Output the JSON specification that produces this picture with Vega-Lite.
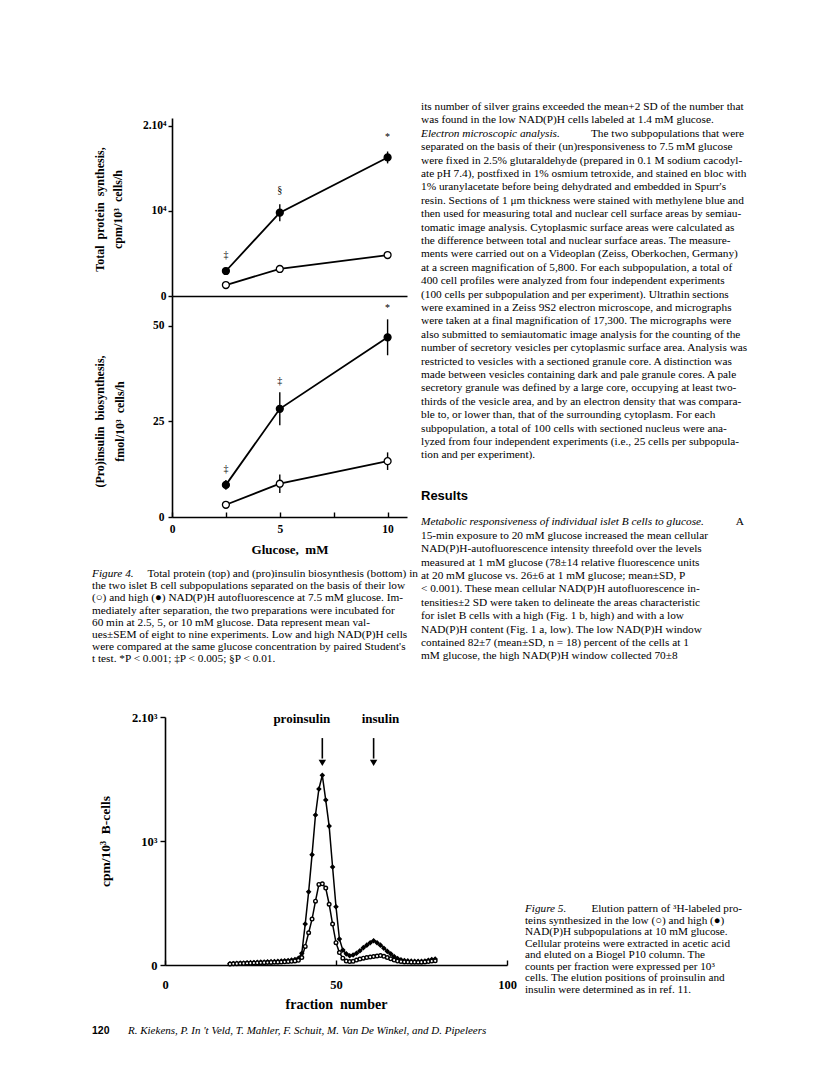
{
  "$schema": "https://vega.github.io/schema/vega-lite/v6.json",
  "padding": {"left": 92, "top": 90, "right": 10, "bottom": 5},
  "background": "white",
  "config": {
    "view": {"stroke": null},
    "axis": {"grid": false, "domainColor": "#000", "domainWidth": 1.6, "tickColor": "#000", "tickWidth": 1.4, "labelColor": "#000", "labelFont": "Liberation Serif", "labelFontWeight": "bold", "titleColor": "#000", "titleFont": "Liberation Serif", "titleFontWeight": "bold", "labelFlush": false, "labelOverlap": false}
  },
  "columns": 3,
  "spacing": 0,
  "align": "each",
  "bounds": "flush",
  "datasets": {
    "fig4": [
      {"panel": "top", "glucose": 2.5, "group": "high", "mean": 2940, "lo": 2740, "hi": 3140, "sig": "‡"},
      {"panel": "top", "glucose": 5, "group": "high", "mean": 9800, "lo": 8800, "hi": 10800, "sig": "§"},
      {"panel": "top", "glucose": 10, "group": "high", "mean": 16300, "lo": 15600, "hi": 17000, "sig": "*"},
      {"panel": "top", "glucose": 2.5, "group": "low", "mean": 1290, "lo": 1150, "hi": 1430, "sig": ""},
      {"panel": "top", "glucose": 5, "group": "low", "mean": 3180, "lo": 2780, "hi": 3580, "sig": ""},
      {"panel": "top", "glucose": 10, "group": "low", "mean": 4820, "lo": 4420, "hi": 5220, "sig": ""},
      {"panel": "bottom", "glucose": 2.5, "group": "high", "mean": 8.4, "lo": 7.1, "hi": 9.7, "sig": "‡"},
      {"panel": "bottom", "glucose": 5, "group": "high", "mean": 28.3, "lo": 24.0, "hi": 32.6, "sig": "‡"},
      {"panel": "bottom", "glucose": 10, "group": "high", "mean": 47.0, "lo": 42.3, "hi": 51.7, "sig": "*"},
      {"panel": "bottom", "glucose": 2.5, "group": "low", "mean": 3.2, "lo": 2.8, "hi": 3.6, "sig": ""},
      {"panel": "bottom", "glucose": 5, "group": "low", "mean": 8.7, "lo": 6.3, "hi": 11.1, "sig": ""},
      {"panel": "bottom", "glucose": 10, "group": "low", "mean": 14.6, "lo": 12.3, "hi": 16.9, "sig": ""}
    ],
    "fig5": [
      {"f": 19, "g": "high", "v": 10}, {"f": 20, "g": "high", "v": 12}, {"f": 21, "g": "high", "v": 14}, {"f": 22, "g": "high", "v": 15}, {"f": 23, "g": "high", "v": 16}, {"f": 24, "g": "high", "v": 18}, {"f": 25, "g": "high", "v": 19}, {"f": 26, "g": "high", "v": 20}, {"f": 27, "g": "high", "v": 22}, {"f": 28, "g": "high", "v": 23}, {"f": 29, "g": "high", "v": 24}, {"f": 30, "g": "high", "v": 26}, {"f": 31, "g": "high", "v": 27}, {"f": 32, "g": "high", "v": 28}, {"f": 33, "g": "high", "v": 30}, {"f": 34, "g": "high", "v": 32}, {"f": 35, "g": "high", "v": 34}, {"f": 36, "g": "high", "v": 36}, {"f": 37, "g": "high", "v": 40}, {"f": 38, "g": "high", "v": 45}, {"f": 39, "g": "high", "v": 55}, {"f": 40, "g": "high", "v": 95}, {"f": 41, "g": "high", "v": 330}, {"f": 42, "g": "high", "v": 590}, {"f": 43, "g": "high", "v": 890}, {"f": 44, "g": "high", "v": 1210}, {"f": 45, "g": "high", "v": 1420}, {"f": 46, "g": "high", "v": 1530}, {"f": 47, "g": "high", "v": 1330}, {"f": 48, "g": "high", "v": 1120}, {"f": 49, "g": "high", "v": 790}, {"f": 50, "g": "high", "v": 470}, {"f": 51, "g": "high", "v": 210}, {"f": 52, "g": "high", "v": 120}, {"f": 53, "g": "high", "v": 90}, {"f": 54, "g": "high", "v": 75}, {"f": 55, "g": "high", "v": 80}, {"f": 56, "g": "high", "v": 95}, {"f": 57, "g": "high", "v": 115}, {"f": 58, "g": "high", "v": 140}, {"f": 59, "g": "high", "v": 160}, {"f": 60, "g": "high", "v": 180}, {"f": 61, "g": "high", "v": 195}, {"f": 62, "g": "high", "v": 180}, {"f": 63, "g": "high", "v": 160}, {"f": 64, "g": "high", "v": 135}, {"f": 65, "g": "high", "v": 110}, {"f": 66, "g": "high", "v": 90}, {"f": 67, "g": "high", "v": 68}, {"f": 68, "g": "high", "v": 52}, {"f": 69, "g": "high", "v": 42}, {"f": 70, "g": "high", "v": 36}, {"f": 71, "g": "high", "v": 33}, {"f": 72, "g": "high", "v": 31}, {"f": 73, "g": "high", "v": 30}, {"f": 74, "g": "high", "v": 30}, {"f": 75, "g": "high", "v": 30}, {"f": 76, "g": "high", "v": 32}, {"f": 77, "g": "high", "v": 38}, {"f": 78, "g": "high", "v": 45}, {"f": 79, "g": "high", "v": 48},
      {"f": 19, "g": "low", "v": 8}, {"f": 20, "g": "low", "v": 10}, {"f": 21, "g": "low", "v": 11}, {"f": 22, "g": "low", "v": 12}, {"f": 23, "g": "low", "v": 13}, {"f": 24, "g": "low", "v": 14}, {"f": 25, "g": "low", "v": 15}, {"f": 26, "g": "low", "v": 16}, {"f": 27, "g": "low", "v": 17}, {"f": 28, "g": "low", "v": 18}, {"f": 29, "g": "low", "v": 19}, {"f": 30, "g": "low", "v": 20}, {"f": 31, "g": "low", "v": 21}, {"f": 32, "g": "low", "v": 22}, {"f": 33, "g": "low", "v": 23}, {"f": 34, "g": "low", "v": 24}, {"f": 35, "g": "low", "v": 26}, {"f": 36, "g": "low", "v": 28}, {"f": 37, "g": "low", "v": 30}, {"f": 38, "g": "low", "v": 33}, {"f": 39, "g": "low", "v": 38}, {"f": 40, "g": "low", "v": 60}, {"f": 41, "g": "low", "v": 150}, {"f": 42, "g": "low", "v": 260}, {"f": 43, "g": "low", "v": 370}, {"f": 44, "g": "low", "v": 515}, {"f": 45, "g": "low", "v": 650}, {"f": 46, "g": "low", "v": 655}, {"f": 47, "g": "low", "v": 620}, {"f": 48, "g": "low", "v": 490}, {"f": 49, "g": "low", "v": 330}, {"f": 50, "g": "low", "v": 180}, {"f": 51, "g": "low", "v": 100}, {"f": 52, "g": "low", "v": 55}, {"f": 53, "g": "low", "v": 32}, {"f": 54, "g": "low", "v": 28}, {"f": 55, "g": "low", "v": 30}, {"f": 56, "g": "low", "v": 40}, {"f": 57, "g": "low", "v": 48}, {"f": 58, "g": "low", "v": 55}, {"f": 59, "g": "low", "v": 60}, {"f": 60, "g": "low", "v": 64}, {"f": 61, "g": "low", "v": 68}, {"f": 62, "g": "low", "v": 72}, {"f": 63, "g": "low", "v": 76}, {"f": 64, "g": "low", "v": 70}, {"f": 65, "g": "low", "v": 60}, {"f": 66, "g": "low", "v": 50}, {"f": 67, "g": "low", "v": 40}, {"f": 68, "g": "low", "v": 32}, {"f": 69, "g": "low", "v": 28}, {"f": 70, "g": "low", "v": 25}, {"f": 71, "g": "low", "v": 24}, {"f": 72, "g": "low", "v": 23}, {"f": 73, "g": "low", "v": 23}, {"f": 74, "g": "low", "v": 22}, {"f": 75, "g": "low", "v": 23}, {"f": 76, "g": "low", "v": 25}, {"f": 77, "g": "low", "v": 28}, {"f": 78, "g": "low", "v": 32}, {"f": 79, "g": "low", "v": 34}
    ],
    "arrows": [
      {"label": "proinsulin", "f": 46, "lf": 40},
      {"label": "insulin", "f": 61, "lf": 63}
    ],
    "rightText": [
      {"line": 1, "style": "plain", "text": "its number of silver grains exceeded the mean+2 SD of the number that"},
      {"line": 2, "style": "plain", "text": "was found in the low NAD(P)H cells labeled at 1.4 mM glucose."},
      {"line": 3, "style": "italic", "text": "\u00a0\u00a0\u00a0\u00a0\u00a0Electron microscopic analysis."},
      {"line": 3, "style": "rest", "text": "The two subpopulations that were"},
      {"line": 4, "style": "plain", "text": "separated on the basis of their (un)responsiveness to 7.5 mM glucose"},
      {"line": 5, "style": "plain", "text": "were fixed in 2.5% glutaraldehyde (prepared in 0.1 M sodium cacodyl-"},
      {"line": 6, "style": "plain", "text": "ate pH 7.4), postfixed in 1% osmium tetroxide, and stained en bloc with"},
      {"line": 7, "style": "plain", "text": "1% uranylacetate before being dehydrated and embedded in Spurr's"},
      {"line": 8, "style": "plain", "text": "resin. Sections of 1 μm thickness were stained with methylene blue and"},
      {"line": 9, "style": "plain", "text": "then used for measuring total and nuclear cell surface areas by semiau-"},
      {"line": 10, "style": "plain", "text": "tomatic image analysis. Cytoplasmic surface areas were calculated as"},
      {"line": 11, "style": "plain", "text": "the difference between total and nuclear surface areas. The measure-"},
      {"line": 12, "style": "plain", "text": "ments were carried out on a Videoplan (Zeiss, Oberkochen, Germany)"},
      {"line": 13, "style": "plain", "text": "at a screen magnification of 5,800. For each subpopulation, a total of"},
      {"line": 14, "style": "plain", "text": "400 cell profiles were analyzed from four independent experiments"},
      {"line": 15, "style": "plain", "text": "(100 cells per subpopulation and per experiment). Ultrathin sections"},
      {"line": 16, "style": "plain", "text": "were examined in a Zeiss 9S2 electron microscope, and micrographs"},
      {"line": 17, "style": "plain", "text": "were taken at a final magnification of 17,300. The micrographs were"},
      {"line": 18, "style": "plain", "text": "also submitted to semiautomatic image analysis for the counting of the"},
      {"line": 19, "style": "plain", "text": "number of secretory vesicles per cytoplasmic surface area. Analysis was"},
      {"line": 20, "style": "plain", "text": "restricted to vesicles with a sectioned granule core. A distinction was"},
      {"line": 21, "style": "plain", "text": "made between vesicles containing dark and pale granule cores. A pale"},
      {"line": 22, "style": "plain", "text": "secretory granule was defined by a large core, occupying at least two-"},
      {"line": 23, "style": "plain", "text": "thirds of the vesicle area, and by an electron density that was compara-"},
      {"line": 24, "style": "plain", "text": "ble to, or lower than, that of the surrounding cytoplasm. For each"},
      {"line": 25, "style": "plain", "text": "subpopulation, a total of 100 cells with sectioned nucleus were ana-"},
      {"line": 26, "style": "plain", "text": "lyzed from four independent experiments (i.e., 25 cells per subpopula-"},
      {"line": 27, "style": "plain", "text": "tion and per experiment)."},
      {"line": 30, "style": "heading", "text": "Results"},
      {"line": 32, "style": "italic", "text": "Metabolic responsiveness of individual islet B cells to glucose."},
      {"line": 32, "style": "rest", "text": "A"},
      {"line": 33, "style": "plain", "text": "15-min exposure to 20 mM glucose increased the mean cellular"},
      {"line": 34, "style": "plain", "text": "NAD(P)H-autofluorescence intensity threefold over the levels"},
      {"line": 35, "style": "plain", "text": "measured at 1 mM glucose (78±14 relative fluorescence units"},
      {"line": 36, "style": "plain", "text": "at 20 mM glucose vs. 26±6 at 1 mM glucose; mean±SD, P"},
      {"line": 37, "style": "plain", "text": "< 0.001). These mean cellular NAD(P)H autofluorescence in-"},
      {"line": 38, "style": "plain", "text": "tensities±2 SD were taken to delineate the areas characteristic"},
      {"line": 39, "style": "plain", "text": "for islet B cells with a high (Fig. 1 b, high) and with a low"},
      {"line": 40, "style": "plain", "text": "NAD(P)H content (Fig. 1 a, low). The low NAD(P)H window"},
      {"line": 41, "style": "plain", "text": "contained 82±7 (mean±SD, n = 18) percent of the cells at 1"},
      {"line": 42, "style": "plain", "text": "mM glucose, the high NAD(P)H window collected 70±8"}
    ],
    "cap4": [
      {"line": 1, "style": "italic", "text": "Figure 4."},
      {"line": 1, "style": "rest", "text": "Total protein (top) and (pro)insulin biosynthesis (bottom) in"},
      {"line": 2, "style": "plain", "text": "the two islet B cell subpopulations separated on the basis of their low"},
      {"line": 3, "style": "plain", "text": "(○) and high (●) NAD(P)H autofluorescence at 7.5 mM glucose. Im-"},
      {"line": 4, "style": "plain", "text": "mediately after separation, the two preparations were incubated for"},
      {"line": 5, "style": "plain", "text": "60 min at 2.5, 5, or 10 mM glucose. Data represent mean val-"},
      {"line": 6, "style": "plain", "text": "ues±SEM of eight to nine experiments. Low and high NAD(P)H cells"},
      {"line": 7, "style": "plain", "text": "were compared at the same glucose concentration by paired Student's"},
      {"line": 8, "style": "plain", "text": "t test. *P < 0.001; ‡P < 0.005; §P < 0.01."}
    ],
    "cap5": [
      {"line": 1, "style": "italic", "text": "Figure 5."},
      {"line": 1, "style": "rest", "text": "Elution pattern of ³H-labeled pro-"},
      {"line": 2, "style": "plain", "text": "teins synthesized in the low (○) and high (●)"},
      {"line": 3, "style": "plain", "text": "NAD(P)H subpopulations at 10 mM glucose."},
      {"line": 4, "style": "plain", "text": "Cellular proteins were extracted in acetic acid"},
      {"line": 5, "style": "plain", "text": "and eluted on a Biogel P10 column. The"},
      {"line": 6, "style": "plain", "text": "counts per fraction were expressed per 10³"},
      {"line": 7, "style": "plain", "text": "cells. The elution positions of proinsulin and"},
      {"line": 8, "style": "plain", "text": "insulin were determined as in ref. 11."}
    ],
    "footer": [
      {"part": "num", "text": "120"},
      {"part": "authors", "text": "R. Kiekens, P. In 't Veld, T. Mahler, F. Schuit, M. Van De Winkel, and D. Pipeleers"}
    ]
  },
  "concat": [
    {"width": 80, "height": 22, "data": {"values": [{}]}, "mark": {"type": "text", "text": ""}},
    {"width": 249, "height": 1, "data": {"values": [{}]}, "mark": {"type": "text", "text": ""}},
    {
      "width": 323, "height": 22,
      "data": {"name": "rightText"},
      "encoding": {"y": {"field": "line", "type": "quantitative", "scale": {"domain": [1, 42], "range": [11, 560.4]}, "axis": null}},
      "layer": [
        {"transform": [{"filter": "datum.style == 'plain'"}], "mark": {"type": "text", "align": "left", "baseline": "middle", "font": "Liberation Serif", "fontSize": 11.3, "fill": "#000"},
         "encoding": {"x": {"datum": 0, "type": "quantitative", "scale": {"domain": [0, 1], "range": [0, 323]}, "axis": null}, "text": {"field": "text"}}},
        {"transform": [{"filter": "datum.style == 'italic'"}], "mark": {"type": "text", "align": "left", "baseline": "middle", "font": "Liberation Serif", "fontStyle": "italic", "fontSize": 11.3, "fill": "#000"},
         "encoding": {"x": {"datum": 0, "type": "quantitative", "scale": {"domain": [0, 1], "range": [0, 323]}, "axis": null}, "text": {"field": "text"}}},
        {"transform": [{"filter": "datum.style == 'rest'"}], "mark": {"type": "text", "align": "right", "baseline": "middle", "font": "Liberation Serif", "fontSize": 11.3, "fill": "#000"},
         "encoding": {"x": {"datum": 1, "type": "quantitative", "scale": {"domain": [0, 1], "range": [0, 323]}, "axis": null}, "text": {"field": "text"}}},
        {"transform": [{"filter": "datum.style == 'heading'"}], "mark": {"type": "text", "align": "left", "baseline": "middle", "font": "Liberation Sans", "fontWeight": "bold", "fontSize": 13, "fill": "#000"},
         "encoding": {"x": {"datum": 0, "type": "quantitative", "scale": {"domain": [0, 1], "range": [0, 323]}, "axis": null}, "text": {"field": "text"}}}
      ]
    },
    {"width": 1, "height": 1, "data": {"values": [{}]}, "mark": {"type": "text", "text": ""}},
    {
      "width": 235, "height": 178,
      "data": {"name": "fig4"},
      "transform": [{"filter": "datum.panel == 'top'"}],
      "encoding": {
        "x": {"field": "glucose", "type": "quantitative", "scale": {"domain": [0, 10.9], "nice": false, "zero": false}, "axis": {"labels": false, "ticks": false, "title": null}},
        "y": {"field": "mean", "type": "quantitative", "scale": {"domain": [0, 20940], "nice": false}, "axis": {"values": [0, 10000, 20000], "labelExpr": "datum.value == 0 ? '0' : datum.value == 10000 ? '10⁴' : '2.10⁴'", "tickSize": 4, "labelPadding": 2, "labelFontSize": 11.5, "title": ["Total\u00a0 protein\u00a0 synthesis,", "cpm/10³\u00a0 cells/h"], "titleX": -73, "titleY": 91, "titleBaseline": "middle", "titleAngle": -90, "titleAlign": "center", "titleFontSize": 12, "titleLineHeight": 18}}
      },
      "layer": [
        {"mark": {"type": "line", "color": "#000", "strokeWidth": 1.8}, "encoding": {"detail": {"field": "group"}}},
        {"mark": {"type": "rule", "color": "#000", "strokeWidth": 1.4},
         "encoding": {"y": {"field": "lo", "type": "quantitative", "scale": {"domain": [0, 20940], "nice": false}, "axis": {"values": [0, 10000, 20000], "labelExpr": "datum.value == 0 ? '0' : datum.value == 10000 ? '10⁴' : '2.10⁴'", "tickSize": 4, "labelPadding": 2, "labelFontSize": 11.5, "title": ["Total\u00a0 protein\u00a0 synthesis,", "cpm/10³\u00a0 cells/h"], "titleX": -73, "titleY": 91, "titleBaseline": "middle", "titleAngle": -90, "titleAlign": "center", "titleFontSize": 12, "titleLineHeight": 18}}, "y2": {"field": "hi"}}},
        {"mark": {"type": "point", "shape": "circle", "filled": true, "size": 48, "stroke": "#000", "strokeWidth": 1.3, "opacity": 1},
         "encoding": {"fill": {"field": "group", "type": "nominal", "scale": {"domain": ["high", "low"], "range": ["#000", "#fff"]}, "legend": null}}},
        {"transform": [{"filter": "datum.group == 'high'"}],
         "mark": {"type": "text", "font": "Liberation Serif", "fontSize": 10, "dy": -14, "fill": "#000", "baseline": "middle"},
         "encoding": {"y": {"field": "hi", "type": "quantitative", "scale": {"domain": [0, 20940], "nice": false}, "axis": {"values": [0, 10000, 20000], "labelExpr": "datum.value == 0 ? '0' : datum.value == 10000 ? '10⁴' : '2.10⁴'", "tickSize": 4, "labelPadding": 2, "labelFontSize": 11.5, "title": ["Total\u00a0 protein\u00a0 synthesis,", "cpm/10³\u00a0 cells/h"], "titleX": -73, "titleY": 91, "titleBaseline": "middle", "titleAngle": -90, "titleAlign": "center", "titleFontSize": 12, "titleLineHeight": 18}}, "text": {"field": "sig"}}}
      ]
    },
    {"width": 1, "height": 1, "data": {"values": [{}]}, "mark": {"type": "text", "text": ""}},
    {"width": 1, "height": 1, "data": {"values": [{}]}, "mark": {"type": "text", "text": ""}},
    {
      "width": 235, "height": 221,
      "data": {"name": "fig4"},
      "transform": [{"filter": "datum.panel == 'bottom'"}],
      "encoding": {
        "x": {"field": "glucose", "type": "quantitative", "scale": {"domain": [0, 10.9], "nice": false, "zero": false}, "axis": {"values": [0, 2.5, 5, 7.5, 10], "labelExpr": "datum.value % 5 == 0 ? datum.label : ''", "tickSize": -5, "labelPadding": 17, "labelBaseline": "middle", "labelFontSize": 11.5, "title": "Glucose,\u00a0 mM", "titleY": 32, "titleBaseline": "middle", "titleFontSize": 13}},
        "y": {"field": "mean", "type": "quantitative", "scale": {"domain": [0, 57.8], "nice": false}, "axis": {"values": [0, 25, 50], "tickSize": 4, "labelPadding": 4, "labelFontSize": 11.5, "title": ["(Pro)insulin\u00a0 biosynthesis,", "fmol/10³\u00a0 cells/h"], "titleX": -73, "titleY": 125, "titleBaseline": "middle", "titleAngle": -90, "titleAlign": "center", "titleFontSize": 12, "titleLineHeight": 20}}
      },
      "layer": [
        {"mark": {"type": "line", "color": "#000", "strokeWidth": 1.8}, "encoding": {"detail": {"field": "group"}}},
        {"mark": {"type": "rule", "color": "#000", "strokeWidth": 1.4},
         "encoding": {"y": {"field": "lo", "type": "quantitative", "scale": {"domain": [0, 57.8], "nice": false}, "axis": {"values": [0, 25, 50], "tickSize": 4, "labelPadding": 4, "labelFontSize": 11.5, "title": ["(Pro)insulin\u00a0 biosynthesis,", "fmol/10³\u00a0 cells/h"], "titleX": -73, "titleY": 125, "titleBaseline": "middle", "titleAngle": -90, "titleAlign": "center", "titleFontSize": 12, "titleLineHeight": 20}}, "y2": {"field": "hi"}}},
        {"mark": {"type": "point", "shape": "circle", "filled": true, "size": 48, "stroke": "#000", "strokeWidth": 1.3, "opacity": 1},
         "encoding": {"fill": {"field": "group", "type": "nominal", "scale": {"domain": ["high", "low"], "range": ["#000", "#fff"]}, "legend": null}}},
        {"transform": [{"filter": "datum.group == 'high'"}],
         "mark": {"type": "text", "font": "Liberation Serif", "fontSize": 10, "dy": -11, "fill": "#000", "baseline": "middle"},
         "encoding": {"y": {"field": "hi", "type": "quantitative", "scale": {"domain": [0, 57.8], "nice": false}, "axis": {"values": [0, 25, 50], "tickSize": 4, "labelPadding": 4, "labelFontSize": 11.5, "title": ["(Pro)insulin\u00a0 biosynthesis,", "fmol/10³\u00a0 cells/h"], "titleX": -73, "titleY": 125, "titleBaseline": "middle", "titleAngle": -90, "titleAlign": "center", "titleFontSize": 12, "titleLineHeight": 20}}, "text": {"field": "sig"}}}
      ]
    },
    {"width": 1, "height": 1, "data": {"values": [{}]}, "mark": {"type": "text", "text": ""}},
    {
      "width": 80, "height": 200,
      "data": {"name": "cap4"},
      "encoding": {"y": {"field": "line", "type": "quantitative", "scale": {"domain": [1, 8], "range": [57, 142.4]}, "axis": null}},
      "layer": [
        {"transform": [{"filter": "datum.style == 'plain'"}], "mark": {"type": "text", "align": "left", "baseline": "middle", "font": "Liberation Serif", "fontSize": 11.3, "fill": "#000"},
         "encoding": {"x": {"datum": 0, "type": "quantitative", "scale": {"domain": [0, 1], "range": [0, 326]}, "axis": null}, "text": {"field": "text"}}},
        {"transform": [{"filter": "datum.style == 'italic'"}], "mark": {"type": "text", "align": "left", "baseline": "middle", "font": "Liberation Serif", "fontStyle": "italic", "fontSize": 11.3, "fill": "#000"},
         "encoding": {"x": {"datum": 0, "type": "quantitative", "scale": {"domain": [0, 1], "range": [0, 326]}, "axis": null}, "text": {"field": "text"}}},
        {"transform": [{"filter": "datum.style == 'rest'"}], "mark": {"type": "text", "align": "right", "baseline": "middle", "font": "Liberation Serif", "fontSize": 11.3, "fill": "#000"},
         "encoding": {"x": {"datum": 1, "type": "quantitative", "scale": {"domain": [0, 1], "range": [0, 326]}, "axis": null}, "text": {"field": "text"}}}
      ]
    },
    {"width": 1, "height": 1, "data": {"values": [{}]}, "mark": {"type": "text", "text": ""}},
    {"width": 1, "height": 1, "data": {"values": [{}]}, "mark": {"type": "text", "text": ""}},
    {"width": 1, "height": 1, "data": {"values": [{}]}, "mark": {"type": "text", "text": ""}},
    {
      "width": 235, "height": 248,
      "layer": [
        {"data": {"name": "fig5"}, "mark": {"type": "line", "color": "#000", "strokeWidth": 1.5},
         "encoding": {
           "x": {"field": "f", "type": "quantitative", "scale": {"domain": [0, 100], "range": [-7, 335], "nice": false, "zero": false}, "axis": {"values": [0, 50, 100], "tickSize": -5, "labelPadding": 24, "labelBaseline": "middle", "labelFontSize": 12.5, "title": "fraction\u00a0 number", "titleX": 164, "titleY": 39, "titleBaseline": "middle", "titleFontSize": 14}},
           "y": {"field": "v", "type": "quantitative", "scale": {"domain": [0, 2000], "nice": false}, "axis": {"values": [0, 1000, 2000], "labelExpr": "datum.value == 0 ? '0' : datum.value == 1000 ? '10³' : '2.10³'", "offset": 7, "tickSize": 5, "labelPadding": 3, "labelFontSize": 12.5, "title": "cpm/10³\u00a0 B-cells", "titleX": -60, "titleY": 124, "titleBaseline": "middle", "titleAngle": -90, "titleAlign": "center", "titleFontSize": 13.5}},
           "detail": {"field": "g"}}},
        {"data": {"name": "fig5"}, "mark": {"type": "point", "filled": true, "size": 13, "stroke": "#000", "strokeWidth": 1.4, "opacity": 1},
         "encoding": {
           "x": {"field": "f", "type": "quantitative", "scale": {"domain": [0, 100], "range": [-7, 335], "nice": false, "zero": false}, "axis": {"values": [0, 50, 100], "tickSize": -5, "labelPadding": 24, "labelBaseline": "middle", "labelFontSize": 12.5, "title": "fraction\u00a0 number", "titleX": 164, "titleY": 39, "titleBaseline": "middle", "titleFontSize": 14}},
           "y": {"field": "v", "type": "quantitative", "scale": {"domain": [0, 2000], "nice": false}, "axis": {"values": [0, 1000, 2000], "labelExpr": "datum.value == 0 ? '0' : datum.value == 1000 ? '10³' : '2.10³'", "offset": 7, "tickSize": 5, "labelPadding": 3, "labelFontSize": 12.5, "title": "cpm/10³\u00a0 B-cells", "titleX": -60, "titleY": 124, "titleBaseline": "middle", "titleAngle": -90, "titleAlign": "center", "titleFontSize": 13.5}},
           "shape": {"field": "g", "type": "nominal", "scale": {"domain": ["high", "low"], "range": ["diamond", "circle"]}, "legend": null},
           "fill": {"field": "g", "type": "nominal", "scale": {"domain": ["high", "low"], "range": ["#000", "#fff"]}, "legend": null}}},
        {"data": {"name": "arrows"}, "mark": {"type": "rule", "color": "#000", "strokeWidth": 1.6},
         "encoding": {
           "x": {"field": "f", "type": "quantitative", "scale": {"domain": [0, 100], "range": [-7, 335], "nice": false, "zero": false}, "axis": {"values": [0, 50, 100], "tickSize": -5, "labelPadding": 24, "labelBaseline": "middle", "labelFontSize": 12.5, "title": "fraction\u00a0 number", "titleX": 164, "titleY": 39, "titleBaseline": "middle", "titleFontSize": 14}},
           "y": {"datum": 1830, "type": "quantitative"}, "y2": {"datum": 1665}}},
        {"data": {"name": "arrows"}, "mark": {"type": "point", "shape": "triangle-down", "filled": true, "size": 55, "color": "#000", "opacity": 1},
         "encoding": {
           "x": {"field": "f", "type": "quantitative", "scale": {"domain": [0, 100], "range": [-7, 335], "nice": false, "zero": false}, "axis": {"values": [0, 50, 100], "tickSize": -5, "labelPadding": 24, "labelBaseline": "middle", "labelFontSize": 12.5, "title": "fraction\u00a0 number", "titleX": 164, "titleY": 39, "titleBaseline": "middle", "titleFontSize": 14}},
           "y": {"datum": 1630, "type": "quantitative"}}},
        {"data": {"name": "arrows"}, "mark": {"type": "text", "font": "Liberation Serif", "fontWeight": "bold", "fontSize": 13, "baseline": "middle", "fill": "#000"},
         "encoding": {
           "x": {"field": "lf", "type": "quantitative", "scale": {"domain": [0, 100], "range": [-7, 335], "nice": false, "zero": false}, "axis": {"values": [0, 50, 100], "tickSize": -5, "labelPadding": 24, "labelBaseline": "middle", "labelFontSize": 12.5, "title": "fraction\u00a0 number", "titleX": 164, "titleY": 39, "titleBaseline": "middle", "titleFontSize": 14}},
           "y": {"datum": 1985, "type": "quantitative"},
           "text": {"field": "label"}}}
      ]
    },
    {
      "width": 1, "height": 1,
      "data": {"name": "cap5"},
      "encoding": {"y": {"field": "line", "type": "quantitative", "scale": {"domain": [1, 8], "range": [192, 272.5]}, "axis": null}},
      "layer": [
        {"transform": [{"filter": "datum.style == 'plain'"}], "mark": {"type": "text", "align": "left", "baseline": "middle", "font": "Liberation Serif", "fontSize": 11.2, "fill": "#000"},
         "encoding": {"x": {"datum": 0, "type": "quantitative", "scale": {"domain": [0, 1], "range": [104, 321]}, "axis": null}, "text": {"field": "text"}}},
        {"transform": [{"filter": "datum.style == 'italic'"}], "mark": {"type": "text", "align": "left", "baseline": "middle", "font": "Liberation Serif", "fontStyle": "italic", "fontSize": 11.2, "fill": "#000"},
         "encoding": {"x": {"datum": 0, "type": "quantitative", "scale": {"domain": [0, 1], "range": [104, 321]}, "axis": null}, "text": {"field": "text"}}},
        {"transform": [{"filter": "datum.style == 'rest'"}], "mark": {"type": "text", "align": "right", "baseline": "middle", "font": "Liberation Serif", "fontSize": 11.2, "fill": "#000"},
         "encoding": {"x": {"datum": 1, "type": "quantitative", "scale": {"domain": [0, 1], "range": [104, 321]}, "axis": null}, "text": {"field": "text"}}}
      ]
    },
    {
      "width": 80, "height": 80,
      "data": {"name": "footer"},
      "encoding": {"y": {"datum": 1, "type": "quantitative", "scale": {"domain": [0, 2], "range": [0, 132]}, "axis": null}},
      "layer": [
        {"transform": [{"filter": "datum.part == 'num'"}], "mark": {"type": "text", "align": "left", "baseline": "middle", "font": "Liberation Sans", "fontWeight": "bold", "fontSize": 10.5, "fill": "#000"},
         "encoding": {"x": {"datum": 0, "type": "quantitative", "scale": {"domain": [0, 1], "range": [0, 36]}, "axis": null}, "text": {"field": "text"}}},
        {"transform": [{"filter": "datum.part == 'authors'"}], "mark": {"type": "text", "align": "left", "baseline": "middle", "font": "Liberation Serif", "fontStyle": "italic", "fontSize": 11, "fill": "#000"},
         "encoding": {"x": {"datum": 1, "type": "quantitative", "scale": {"domain": [0, 1], "range": [0, 36]}, "axis": null}, "text": {"field": "text"}}}
      ]
    }
  ]
}
